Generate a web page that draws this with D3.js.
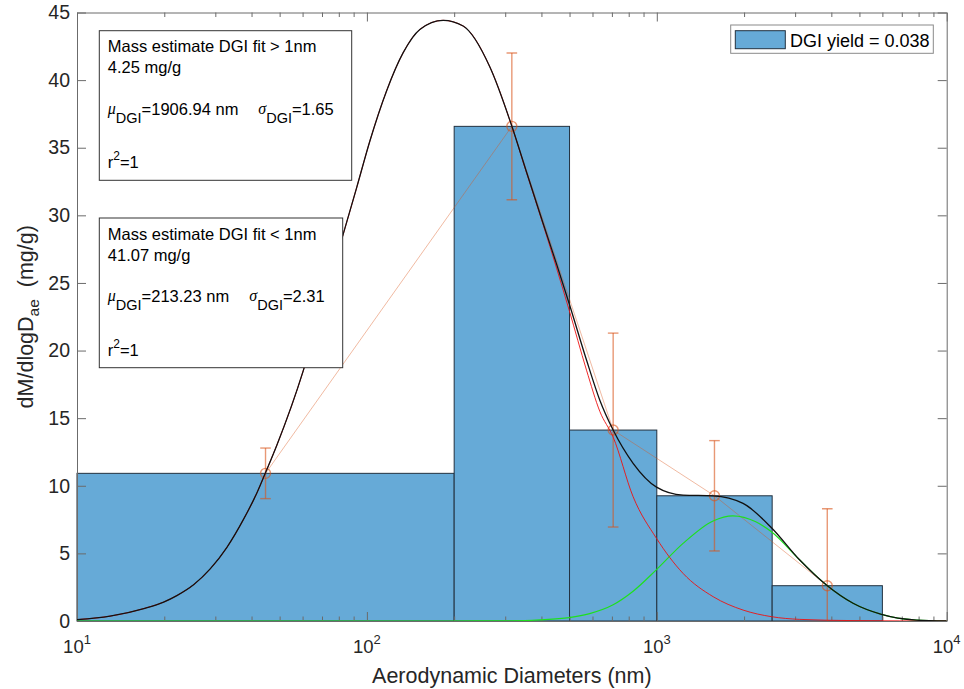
<!DOCTYPE html>
<html>
<head>
<meta charset="utf-8">
<script src="https://cdn.jsdelivr.net/npm/d3@7"></script>
<style>
  html, body { margin: 0; padding: 0; background: #fff; }
  svg { display: block; font-family: "Liberation Sans", Arial, sans-serif; }
</style>
</head>
<body>
<svg id="chart"></svg>
<script>
// ---------------------------------------------------------------------------
// Data
// ---------------------------------------------------------------------------

// histogram bins (nm) and heights (mg/g)
const binEdges = [10, 200, 500, 1000, 2500, 6000];
const binHeights = [10.92, 36.58, 14.12, 9.26, 2.61];

// measured points with symmetric error bars
const pointX = [44.7, 316.2, 707.1, 1581, 3873];
const pointY = [10.92, 36.58, 14.12, 9.26, 2.61];
const pointErr = [1.87, 5.43, 7.17, 4.08, 5.69];

// total fit (black)
const totalX = [10, 13.0, 17.0, 19.9, 22.1, 25.3, 28.8, 32.9, 37.6, 41.8, 44.6, 48.9, 60.3, 70.7,
  81.8, 92.2, 102.4, 116.9, 133.4, 152.3, 183.3, 214.8, 265.6, 315.5, 355.3, 405.5, 451, 498.5,
  572.2, 636, 707, 828.5, 997.7, 1232, 1564, 1984, 2486, 3113, 3847, 4753, 5954, 7863, 10000];
const totalY = [0.1, 0.36, 0.92, 1.40, 1.88, 2.70, 3.85, 5.45, 7.55, 9.5, 10.92, 13.0, 18.5, 23.67,
  28.2, 32.05, 35.5, 39.2, 42.03, 43.75, 44.42, 44.0, 40.97, 36.66, 33.2, 29.4, 26.4, 23.48,
  19.3, 16.33, 14.12, 11.66, 9.9, 9.31, 9.26, 8.7, 6.9, 4.51, 2.66, 1.31, 0.49, 0.07, 0];

// fine mode fit (red)
const fineX = [10, 13.0, 17.0, 19.9, 22.1, 25.3, 28.8, 32.9, 37.6, 41.8, 44.6, 48.9, 60.3, 70.7,
  81.8, 92.2, 102.4, 116.9, 133.4, 152.3, 183.3, 214.8, 265.6, 315.5, 355.3, 405.5, 451, 498.5,
  572.2, 636, 707, 828.5, 997.7, 1232, 1564, 1984, 2486, 3113, 4753, 10000];
const fineY = [0.1, 0.36, 0.92, 1.40, 1.88, 2.70, 3.85, 5.45, 7.55, 9.5, 10.92, 13.0, 18.5, 23.67,
  28.2, 32.05, 35.5, 39.2, 42.03, 43.75, 44.42, 44.0, 40.97, 36.65, 33.15, 29.3, 26.1, 22.99,
  18.55, 15.5, 13.6, 9.19, 6.11, 3.52, 1.8, 0.81, 0.32, 0.12, 0.03, 0];

// coarse mode fit (green)
const coarseX = [10, 193, 315.5, 395, 498.5, 587, 707, 828.5, 997.7, 1232, 1564, 1828, 2195,
  2486, 3113, 3847, 4753, 5954, 7863, 10000];
const coarseY = [0, 0, 0.01, 0.08, 0.25, 0.55, 1.2, 2.2, 3.8, 5.74, 7.4, 7.78, 7.34,
  6.6, 4.51, 2.66, 1.31, 0.49, 0.07, 0];

const xMajorTicks = [10, 100, 1000, 10000];
const xTickExponents = ["1", "2", "3", "4"];
const yTicks = [0, 5, 10, 15, 20, 25, 30, 35, 40, 45];

const legendLabel = "DGI yield = 0.038";
const boxes = [
  { title: "Mass estimate DGI fit > 1nm", mass: "4.25 mg/g", mu: "=1906.94 nm", sigma: "=1.65", r2: "=1" },
  { title: "Mass estimate DGI fit < 1nm", mass: "41.07 mg/g", mu: "=213.23 nm", sigma: "=2.31", r2: "=1" }
];

// ---------------------------------------------------------------------------
// Layout
// ---------------------------------------------------------------------------

const W = 964, H = 689;
const plot = { left: 77, right: 946.7, top: 12.5, bottom: 621 };

const BAR_FILL = "#66aad7";
const BAR_EDGE = "#22313f";
const ORANGE = "#d95319";
const TEXT = "#262626";
const AXIS = "#6b6b6b";

const svg = d3.select("#chart").attr("width", W).attr("height", H);

const x = d3.scaleLog().domain([10, 10000]).range([plot.left, plot.right]);
const y = d3.scaleLinear().domain([0, 45]).range([plot.bottom, plot.top]);

svg.append("defs").append("clipPath").attr("id", "clip")
  .append("rect")
  .attr("x", plot.left).attr("y", plot.top)
  .attr("width", plot.right - plot.left).attr("height", plot.bottom - plot.top);

// ---------------------------------------------------------------------------
// Bars
// ---------------------------------------------------------------------------

const bins = binHeights.map((h, i) => ({ x0: binEdges[i], x1: binEdges[i + 1], h }));

svg.append("g").selectAll("rect")
  .data(bins)
  .join("rect")
  .attr("x", d => x(d.x0))
  .attr("width", d => x(d.x1) - x(d.x0))
  .attr("y", d => y(d.h))
  .attr("height", d => y(0) - y(d.h))
  .attr("fill", BAR_FILL)
  .attr("stroke", BAR_EDGE)
  .attr("stroke-width", 1);

// ---------------------------------------------------------------------------
// Axes (box with inner ticks on all four sides)
// ---------------------------------------------------------------------------

const minorTicks = [];
[10, 100, 1000].forEach(dec => {
  for (let k = 2; k <= 9; k++) minorTicks.push(dec * k);
});

function styleAxis(g) {
  g.selectAll("path.domain").attr("stroke", AXIS);
  g.selectAll(".tick line").attr("stroke", AXIS);
  g.selectAll(".tick text").attr("fill", TEXT);
}

// bottom
svg.append("g")
  .attr("transform", `translate(0,${plot.bottom})`)
  .call(d3.axisBottom(x).tickValues(xMajorTicks).tickSizeInner(-9).tickSizeOuter(0).tickFormat(""))
  .call(styleAxis);
svg.append("g")
  .attr("transform", `translate(0,${plot.bottom})`)
  .call(d3.axisBottom(x).tickValues(minorTicks).tickSizeInner(-4.5).tickSizeOuter(0).tickFormat(""))
  .call(g => g.select(".domain").remove())
  .call(styleAxis);

// top
svg.append("g")
  .attr("transform", `translate(0,${plot.top})`)
  .call(d3.axisTop(x).tickValues(xMajorTicks).tickSizeInner(-9).tickSizeOuter(0).tickFormat(""))
  .call(styleAxis);
svg.append("g")
  .attr("transform", `translate(0,${plot.top})`)
  .call(d3.axisTop(x).tickValues(minorTicks).tickSizeInner(-4.5).tickSizeOuter(0).tickFormat(""))
  .call(g => g.select(".domain").remove())
  .call(styleAxis);

// left
svg.append("g")
  .attr("transform", `translate(${plot.left},0)`)
  .call(d3.axisLeft(y).tickValues(yTicks).tickSizeInner(-9).tickSizeOuter(0).tickPadding(7))
  .call(styleAxis)
  .call(g => g.selectAll(".tick text")
    .attr("font-size", 19.5)
    .attr("font-family", "Liberation Sans, Arial, sans-serif"));

// right
svg.append("g")
  .attr("transform", `translate(${plot.right},0)`)
  .call(d3.axisRight(y).tickValues(yTicks).tickSizeInner(-9).tickSizeOuter(0).tickFormat(""))
  .call(styleAxis);

// x tick labels 10^n
const xLab = svg.append("g").attr("fill", TEXT);
xMajorTicks.forEach((v, i) => {
  const t = xLab.append("text")
    .attr("x", x(v))
    .attr("y", plot.bottom + 32)
    .attr("text-anchor", "middle")
    .attr("font-size", 18.5);
  t.append("tspan").text("10");
  t.append("tspan").attr("dy", -9).attr("font-size", 13).text(xTickExponents[i]);
});

// axis titles
svg.append("text")
  .attr("x", (plot.left + plot.right) / 2)
  .attr("y", 683)
  .attr("text-anchor", "middle")
  .attr("font-size", 21.5)
  .attr("fill", TEXT)
  .text("Aerodynamic Diameters (nm)");

const yTitle = svg.append("text")
  .attr("transform", `translate(33,${(plot.top + plot.bottom) / 2}) rotate(-90)`)
  .attr("text-anchor", "middle")
  .attr("font-size", 21.5)
  .attr("fill", TEXT);
yTitle.append("tspan").text("dM/dlogD");
yTitle.append("tspan").attr("dy", 6).attr("font-size", 15.5).text("ae");
yTitle.append("tspan").attr("dy", -6).text("\u00a0\u00a0(mg/g)");

// ---------------------------------------------------------------------------
// Measured points + error bars
// ---------------------------------------------------------------------------

const pts = pointX.map((v, i) => ({ x: v, y: pointY[i], e: pointErr[i] }));
const marks = svg.append("g").attr("clip-path", "url(#clip)");

marks.append("path")
  .datum(pts)
  .attr("fill", "none")
  .attr("stroke", ORANGE)
  .attr("stroke-opacity", 0.45)
  .attr("stroke-width", 0.9)
  .attr("d", d3.line().x(d => x(d.x)).y(d => y(d.y)));

const eb = marks.append("g")
  .attr("stroke", ORANGE)
  .attr("stroke-opacity", 0.6)
  .attr("stroke-width", 1.4)
  .attr("fill", "none");

eb.selectAll("line.stem").data(pts).join("line")
  .attr("class", "stem")
  .attr("x1", d => x(d.x)).attr("x2", d => x(d.x))
  .attr("y1", d => y(d.y - d.e)).attr("y2", d => y(d.y + d.e));
eb.selectAll("line.capTop").data(pts).join("line")
  .attr("class", "capTop")
  .attr("x1", d => x(d.x) - 5.3).attr("x2", d => x(d.x) + 5.3)
  .attr("y1", d => y(d.y + d.e)).attr("y2", d => y(d.y + d.e));
eb.selectAll("line.capBot").data(pts).join("line")
  .attr("class", "capBot")
  .attr("x1", d => x(d.x) - 5.3).attr("x2", d => x(d.x) + 5.3)
  .attr("y1", d => y(d.y - d.e)).attr("y2", d => y(d.y - d.e));
eb.selectAll("circle").data(pts).join("circle")
  .attr("cx", d => x(d.x)).attr("cy", d => y(d.y)).attr("r", 5);

// ---------------------------------------------------------------------------
// Fitted curves
// ---------------------------------------------------------------------------

const curve = d3.line().x(d => x(d[0])).y(d => y(d[1])).curve(d3.curveMonotoneX);

function drawCurve(xs, ys, color, width) {
  marks.append("path")
    .datum(xs.map((v, i) => [v, ys[i]]))
    .attr("fill", "none")
    .attr("stroke", color)
    .attr("stroke-width", width)
    .attr("d", curve);
}

drawCurve(coarseX, coarseY, "#1ee01e", 1.2);
drawCurve(fineX, fineY, "#ee1111", 0.9);
drawCurve(totalX, totalY, "#111111", 1.3);

// ---------------------------------------------------------------------------
// Annotation boxes
// ---------------------------------------------------------------------------

const boxGeom = [
  { x0: 99.3, y0: 30.7, x1: 351.7, y1: 180.3, sigmaX: 258.3 },
  { x0: 99.3, y0: 218, x1: 342.7, y1: 367.7, sigmaX: 249.3 }
];

boxes.forEach((b, i) => {
  const g = boxGeom[i];
  const grp = svg.append("g").attr("fill", "#000").attr("font-size", 16.5);
  grp.append("rect")
    .attr("x", g.x0).attr("y", g.y0)
    .attr("width", g.x1 - g.x0).attr("height", g.y1 - g.y0)
    .attr("fill", "#fff").attr("stroke", "#333").attr("stroke-width", 1);
  const tx = g.x0 + 8.5;
  grp.append("text").attr("x", tx).attr("y", g.y0 + 21.6).text(b.title);
  grp.append("text").attr("x", tx).attr("y", g.y0 + 42.6).text(b.mass);

  const mu = grp.append("text").attr("x", tx).attr("y", g.y0 + 84.3);
  mu.append("tspan").attr("font-family", "Liberation Serif, serif").attr("font-style", "italic")
    .attr("font-size", 16).attr("dy", -1.5).text("\u03bc");
  mu.append("tspan").attr("dy", 9).attr("font-size", 14.5).text("DGI");
  mu.append("tspan").attr("dy", -7.5).text(b.mu);

  const sg = grp.append("text").attr("x", g.sigmaX).attr("y", g.y0 + 84.3);
  sg.append("tspan").attr("font-family", "Liberation Serif, serif").attr("font-style", "italic")
    .attr("font-size", 16).attr("dy", -1.5).text("\u03c3");
  sg.append("tspan").attr("dy", 9).attr("font-size", 14.5).text("DGI");
  sg.append("tspan").attr("dy", -7.5).text(b.sigma);

  const r2 = grp.append("text").attr("x", tx).attr("y", g.y0 + 137.6);
  r2.append("tspan").text("r");
  r2.append("tspan").attr("dy", -8).attr("font-size", 12).text("2");
  r2.append("tspan").attr("dy", 8).text(b.r2);
});

// ---------------------------------------------------------------------------
// Legend
// ---------------------------------------------------------------------------

const lg = svg.append("g");
lg.append("rect")
  .attr("x", 730.7).attr("y", 25).attr("width", 202.6).attr("height", 28.3)
  .attr("fill", "#fff").attr("stroke", "#8a8a8a").attr("stroke-width", 1);
lg.append("rect")
  .attr("x", 735.3).attr("y", 30.7).attr("width", 50).attr("height", 18)
  .attr("fill", BAR_FILL).attr("stroke", BAR_EDGE).attr("stroke-width", 1);
lg.append("text")
  .attr("x", 790).attr("y", 46.5)
  .attr("font-size", 18)
  .attr("fill", "#000")
  .text(legendLabel);
</script>
</body>
</html>
